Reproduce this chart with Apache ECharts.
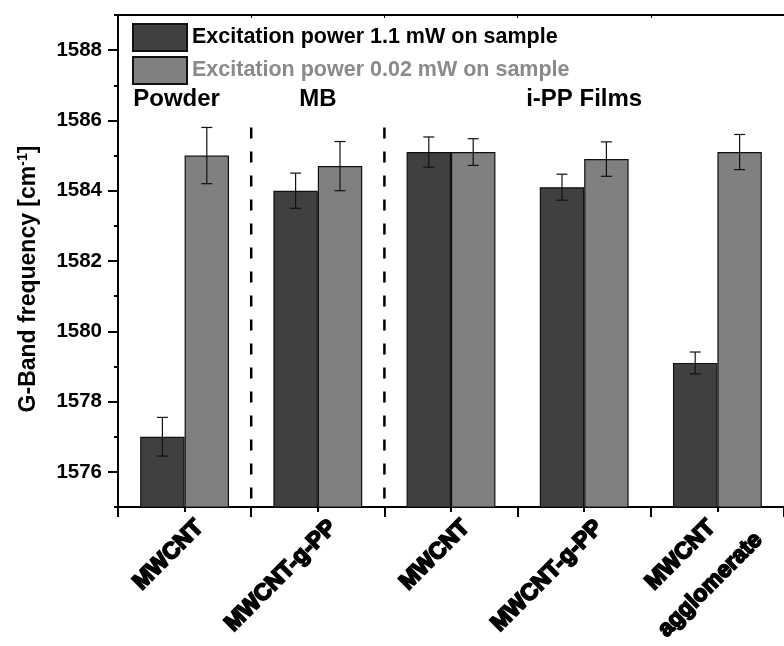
<!DOCTYPE html>
<html>
<head>
<meta charset="utf-8">
<script src="https://cdn.jsdelivr.net/npm/echarts@6/dist/echarts.min.js"></script>
<style>
  html, body { margin: 0; padding: 0; background: #fff; }
  #chart { width: 784px; height: 646px; }
</style>
</head>
<body>
<div id="chart"></div>
<script>
// categories along x
const categories = ['MWCNT', 'MWCNT-g-PP', 'MWCNT', 'MWCNT-g-PP', 'MWCNT\nagglomerate']
const seriesNames = ['Excitation power 1.1 mW on sample', 'Excitation power 0.02 mW on sample']

// G-band frequency [cm-1]
const highPower = [1577.0, 1584.0, 1585.1, 1584.1, 1579.1]
const highPowerErr = [0.55, 0.5, 0.43, 0.37, 0.31]
const lowPower = [1585.0, 1584.7, 1585.1, 1584.9, 1585.1]
const lowPowerErr = [0.8, 0.7, 0.38, 0.49, 0.5]

// sample groups: label and the category it sits over
const groupNames = ['Powder', 'MB', 'i-PP Films']
const groupCats = [0, 1, 3]
const groupLabelValue = 1586.6
// dashed separators after these category indexes
const separatorsAfter = [0, 1]
const separatorTop = 1585.8

const yMin = 1575
const yMax = 1589

const FONT = '"Liberation Sans", Arial, sans-serif'
const DARK = '#404040'
const LIGHT = '#808080'

const chart = echarts.init(document.getElementById('chart'))

const errorSeries = (values, errs, side) => ({
  type: 'custom',
  xAxisIndex: 0,
  yAxisIndex: 0,
  silent: true,
  z: 5,
  data: values.map((v, i) => [i, v - errs[i], v + errs[i]]),
  renderItem: (params, api) => {
    const catW = api.size([1, 0])[0]
    const lo = api.coord([api.value(0), api.value(1)])
    const hi = api.coord([api.value(0), api.value(2)])
    const x = lo[0] + side * catW / 6
    const cap = 5.5
    const style = { stroke: '#111', lineWidth: 1.2 }
    return {
      type: 'group',
      children: [
        { type: 'line', shape: { x1: x, y1: lo[1], x2: x, y2: hi[1] }, style },
        { type: 'line', shape: { x1: x - cap, y1: lo[1], x2: x + cap, y2: lo[1] }, style },
        { type: 'line', shape: { x1: x - cap, y1: hi[1], x2: x + cap, y2: hi[1] }, style },
      ],
    }
  },
})

const option = {
  animation: false,
  textStyle: { fontFamily: FONT },
  legend: {
    orient: 'vertical',
    left: 127,
    top: 18,
    icon: 'rect',
    itemWidth: 54,
    itemHeight: 27,
    itemGap: 4,
    textStyle: { fontSize: 21.5, fontWeight: 'bold', fontFamily: FONT },
    data: [
      { name: seriesNames[0], textStyle: { color: '#000' } },
      { name: seriesNames[1], textStyle: { color: '#8a8a8a' } },
    ],
  },
  grid: { left: 118, right: -7, top: 15, bottom: 139 },
  xAxis: [
    {
      type: 'category',
      data: categories,
      position: 'bottom',
      axisLine: { lineStyle: { color: '#000', width: 2 } },
      axisTick: { show: true, length: 10, lineStyle: { color: '#000', width: 2 } },
      axisLabel: { show: false },
      splitLine: { show: false },
    },
    {
      type: 'category',
      data: categories,
      position: 'bottom',
      axisLine: { show: false },
      axisTick: { show: true, alignWithLabel: true, length: 5, lineStyle: { color: '#000', width: 2 } },
      axisLabel: { show: false },
    },
    {
      type: 'category',
      data: categories,
      position: 'top',
      axisLine: { lineStyle: { color: '#000', width: 2 } },
      axisTick: { show: true, inside: true, length: 3, lineStyle: { color: '#000', width: 1 } },
      axisLabel: { show: false },
    },
  ],
  yAxis: [
    {
      type: 'value',
      min: yMin,
      max: yMax,
      minInterval: 2,
      maxInterval: 2,
      position: 'left',
      name: 'G-Band frequency [cm{sup|-1}]',
      nameLocation: 'middle',
      nameGap: 76,
      nameRotate: 90,
      nameTextStyle: {
        fontSize: 23,
        fontWeight: 'bold',
        color: '#000',
        fontFamily: FONT,
        padding: [0, 36, 0, 0],
        rich: {
          sup: { fontSize: 14, fontWeight: 'bold', verticalAlign: 'top', padding: [0, 0, 12, 0], fontFamily: FONT },
        },
      },
      axisLine: { show: true, lineStyle: { color: '#000', width: 2 } },
      axisTick: { show: true, length: 10, lineStyle: { color: '#000', width: 2 } },
      axisLabel: {
        color: '#000',
        fontSize: 20.5,
        fontWeight: 'bold',
        fontFamily: FONT,
        margin: 16,
        showMinLabel: false,
        showMaxLabel: false,
        formatter: v => String(v),
      },
      splitLine: { show: false },
    },
    {
      type: 'value',
      min: yMin,
      max: yMax,
      minInterval: 1,
      maxInterval: 1,
      position: 'left',
      axisLine: { show: false },
      axisTick: { show: true, length: 4, lineStyle: { color: '#000', width: 2 } },
      axisLabel: { show: false },
      splitLine: { show: false },
    },
  ],
  series: [
    {
      name: seriesNames[0],
      type: 'bar',
      data: highPower,
      barGap: '0%',
      barCategoryGap: '33.3%',
      itemStyle: { color: DARK, borderColor: '#111', borderWidth: 1.2 },
    },
    {
      name: seriesNames[1],
      type: 'bar',
      data: lowPower,
      itemStyle: { color: LIGHT, borderColor: '#111', borderWidth: 1.2 },
    },
    errorSeries(highPower, highPowerErr, -1),
    errorSeries(lowPower, lowPowerErr, 1),
    {
      // dashed separators between sample groups
      type: 'custom',
      silent: true,
      z: 4,
      data: separatorsAfter.map(i => [i, separatorTop]),
      renderItem: (params, api) => {
        const catW = api.size([1, 0])[0]
        const top = api.coord([api.value(0), api.value(1)])
        const bottom = api.coord([api.value(0), yMin])
        const x = top[0] + catW / 2
        return {
          type: 'line',
          shape: { x1: x, y1: top[1], x2: x, y2: bottom[1] - 3 },
          style: { stroke: '#000', lineWidth: 2.5, lineDash: [11, 13] },
        }
      },
    },
    {
      // group titles
      type: 'custom',
      silent: true,
      data: groupCats.map((c, i) => [c, groupLabelValue, i]),
      renderItem: (params, api) => {
        const p = api.coord([api.value(0), api.value(1)])
        const i = api.value(2)
        return {
          type: 'text',
          x: p[0] - (i === 0 ? 8 : 0),
          y: p[1],
          style: {
            text: groupNames[i],
            fontSize: 24,
            fontWeight: 'bold',
            fontFamily: FONT,
            fill: '#000',
            align: 'center',
            verticalAlign: 'middle',
          },
        }
      },
    },
    {
      // rotated category labels
      type: 'custom',
      silent: true,
      clip: false,
      data: categories.map((c, i) => [i, yMin]),
      renderItem: (params, api) => {
        const idx = api.value(0)
        const p = api.coord([idx, yMin])
        const text = categories[idx]
        const twoLines = text.indexOf('\n') >= 0
        const base = {
          fontSize: 23,
          fontWeight: 'bold',
          fontFamily: FONT,
          fill: '#000',
          stroke: '#000',
          lineWidth: 1.8,
          text,
          verticalAlign: 'middle',
        }
        if (twoLines) {
          return {
            type: 'text',
            x: p[0] - 22,
            y: p[1] + 63,
            rotation: Math.PI / 4,
            style: Object.assign(base, { align: 'center', lineHeight: 42 }),
          }
        }
        return {
          type: 'text',
          x: p[0] + 15,
          y: p[1] + 17,
          rotation: Math.PI / 4,
          style: Object.assign(base, { align: 'right' }),
        }
      },
    },
  ],
}

chart.setOption(option)
</script>
</body>
</html>
